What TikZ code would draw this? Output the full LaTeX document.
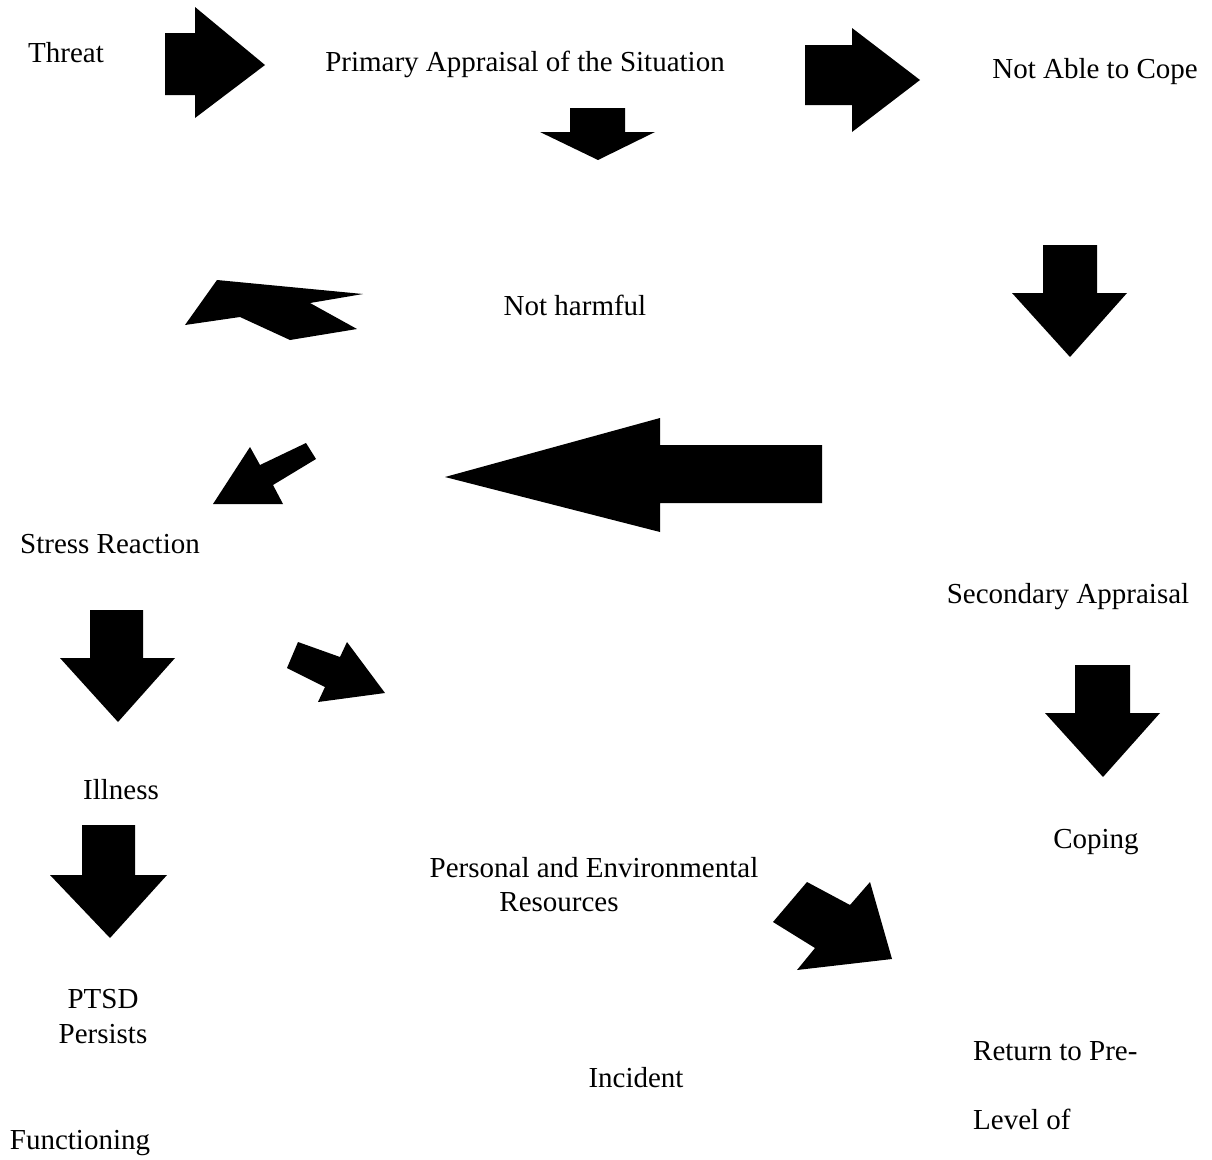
\documentclass[tikz,border=0pt]{standalone}
\usepackage{fontspec}
\setmainfont{Liberation Serif}
\begin{document}
\begin{tikzpicture}[x=1pt, y=-1pt, line join=round,
	lbl/.style={inner sep=0pt, anchor=base, font=\fontsize{29}{35}\selectfont},
	blk/.style={fill=black}]
			\useasboundingbox (0,0) rectangle (1212,1159);
			\node[lbl] (threat) at (66,62) {Threat};
			\node[lbl] (primary) at (525,71) {Primary Appraisal of the Situation};
			\node[lbl] (notable) at (1095,78) {Not Able to Cope};
			\node[lbl] (notharm) at (575,315) {Not harmful};
			\node[lbl] (stress) at (110,553) {Stress Reaction};
			\node[lbl] (second) at (1068,603) {Secondary Appraisal};
			\node[lbl] (illness) at (121,799) {Illness};
			\node[lbl] (coping) at (1096,848) {Coping};
			\node[lbl] (pers) at (594,877) {Personal and Environmental};
			\node[lbl] (res) at (559,911) {Resources};
			\node[lbl, align=center] (ptsd) at (103,1043) {PTSD\\Persists};
			\node[lbl] (incident) at (636,1087) {Incident};
			\node[lbl, anchor=base west] (ret) at (973,1060) {Return to Pre-};
			\node[lbl, anchor=base west] (level) at (973,1129) {Level of};
			\node[lbl] (func) at (80,1149) {Functioning};
			% right arrows
			\fill[blk] (165,33)--(195,33)--(195,7)--(265,65)--(195,118)--(195,95)--(165,95)--cycle;
			\fill[blk] (805,45)--(852,45)--(852,28)--(920,80)--(852,132)--(852,105)--(805,105)--cycle;
			% down arrows
			\fill[blk] (570,108)--(625,108)--(625,132)--(655,132)--(598,160)--(540,132)--(570,132)--cycle;
			\fill[blk] (1043,245)--(1097,245)--(1097,293)--(1127,293)--(1070,357)--(1012,293)--(1043,293)--cycle;
			\fill[blk] (1075,665)--(1130,665)--(1130,713)--(1160,713)--(1103,777)--(1045,713)--(1075,713)--cycle;
			\fill[blk] (90,610)--(143,610)--(143,658)--(175,658)--(118,722)--(60,658)--(90,658)--cycle;
			\fill[blk] (82,825)--(135,825)--(135,875)--(167,875)--(110,938)--(50,875)--(82,875)--cycle;
			% big left arrow
			\fill[blk] (445,477)--(660,418)--(660,445)--(822,445)--(822,503)--(660,503)--(660,532)--cycle;
			% slanted arrows
			\fill[blk] (217,280)--(363,294)--(310,303)--(357,329)--(290,340)--(240,317)--(185,325)--cycle;
			\fill[blk] (213,504)--(250,447)--(260,465)--(306,443)--(316,459)--(273,485)--(283,504)--cycle;
			\fill[blk] (298,642)--(340,657)--(347,642)--(385,693)--(318,702)--(325,687)--(287,668)--cycle;
			\fill[blk] (807,882)--(850,905)--(870,882)--(892,959)--(797,970)--(815,948)--(773,922)--cycle;
		\end{tikzpicture}
\end{document}
